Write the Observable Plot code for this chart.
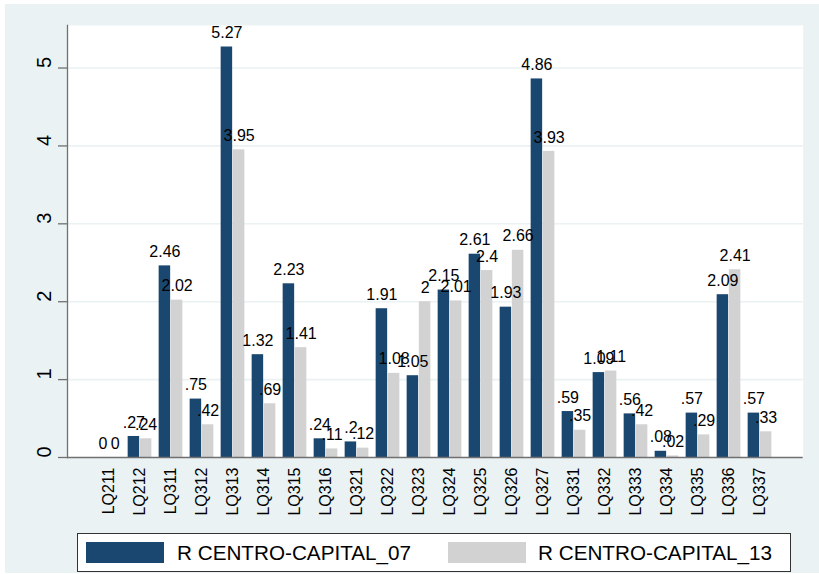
<!DOCTYPE html>
<html>
<head>
<meta charset="utf-8">
<script src="https://cdn.jsdelivr.net/npm/d3@7"></script>
<script src="https://cdn.jsdelivr.net/npm/@observablehq/plot@0.6"></script>
<style>
  html, body { margin: 0; padding: 0; background: #ffffff; }
  #wrap { position: relative; width: 819px; height: 574px; overflow: hidden; font-family: "Liberation Sans", Arial, sans-serif; }
  #bg { position: absolute; left: 5px; top: 4px; width: 814px; height: 569px; background: #eaf2f3; }
  #chart { position: absolute; left: 0; top: 0; }
  #legend { position: absolute; left: 77px; top: 533px; width: 712px; height: 37px; background: #ffffff; border: 1px solid #333333; }
  .sw { position: absolute; top: 8px; width: 78px; height: 21px; }
  .lt { position: absolute; top: 0; line-height: 37px; font-size: 20.7px; color: #000; white-space: nowrap; }
</style>
</head>
<body>
<div id="wrap">
  <div id="bg"></div>
  <div id="chart"></div>
  <div id="legend"></div>
</div>
<script>
const cats = ["LQ211","LQ212","LQ311","LQ312","LQ313","LQ314","LQ315","LQ316","LQ321","LQ322","LQ323","LQ324","LQ325","LQ326","LQ327","LQ331","LQ332","LQ333","LQ334","LQ335","LQ336","LQ337"];
const v07 = [0, 0.27, 2.46, 0.75, 5.27, 1.32, 2.23, 0.24, 0.2, 1.91, 1.05, 2.15, 2.61, 1.93, 4.86, 0.59, 1.09, 0.56, 0.08, 0.57, 2.09, 0.57];
const v13 = [0, 0.24, 2.02, 0.42, 3.95, 0.69, 1.41, 0.11, 0.12, 1.08, 2, 2.01, 2.4, 2.66, 3.93, 0.35, 1.11, 0.42, 0.02, 0.29, 2.41, 0.33];
const yTicks = [0, 1, 2, 3, 4, 5];
const seriesNames = ["R CENTRO-CAPITAL_07", "R CENTRO-CAPITAL_13"];
const seriesColors = ["#1a476f", "#d2d2d2"];

const rows07 = cats.map((c, i) => ({cat: c, v: v07[i]}));
const rows13 = cats.map((c, i) => ({cat: c, v: v13[i]}));
const fmt = v => v === 0 ? "0" : String(v).replace(/^0\./, ".");

const axisColor = "#707070";
const chart = Plot.plot({
  width: 819,
  height: 524,
  marginLeft: 67,
  marginRight: 16.3,
  marginTop: 25,
  marginBottom: 67,
  style: {background: "transparent", fontFamily: "'Liberation Sans', Arial, sans-serif", overflow: "visible", color: "#000"},
  x: {domain: cats, range: [85.15, 782.55], padding: 0},
  y: {domain: [0, 5.546]},
  marks: [
    Plot.frame({fill: "white", stroke: null}),
    Plot.ruleY(yTicks.filter(d => d > 0), {stroke: "#eaf2f3", strokeWidth: 1.6}),
    Plot.barY(rows07, {x: "cat", y: "v", fill: seriesColors[0], insetLeft: 3.65, insetRight: 15.85}),
    Plot.barY(rows13, {x: "cat", y: "v", fill: seriesColors[1], insetLeft: 15.85, insetRight: 3.65}),
    Plot.text(rows07, {x: "cat", y: "v", text: d => fmt(d.v), dx: -6.1, dy: -14, fontSize: 16, fill: "#000"}),
    Plot.text(rows13, {x: "cat", y: "v", text: d => fmt(d.v), dx: 6.1, dy: -14, fontSize: 16, fill: "#000"}),
    Plot.axisX({tickRotate: -90, tickSize: 0, tickPadding: 10, fontSize: 16, label: null}),
    Plot.axisY({ticks: yTicks, tickSize: 9, tickFormat: () => "", stroke: axisColor, strokeWidth: 1.3, label: null}),
    Plot.text(yTicks, {y: d => d, text: d => String(d), frameAnchor: "left", dx: -23.4, rotate: -90, fontSize: 20, fill: "#000"}),
    Plot.frame({anchor: "left", stroke: axisColor, strokeWidth: 1.3}),
    Plot.ruleY([0], {stroke: axisColor, strokeWidth: 1.3})
  ]
});
document.getElementById("chart").appendChild(chart);

const legend = document.getElementById("legend");
const swLeft = [8, 370];
const txtLeft = [99, 460];
seriesNames.forEach((name, i) => {
  const sw = document.createElement("div");
  sw.className = "sw";
  sw.style.left = swLeft[i] + "px";
  sw.style.background = seriesColors[i];
  legend.appendChild(sw);
  const t = document.createElement("div");
  t.className = "lt";
  t.style.left = txtLeft[i] + "px";
  t.textContent = name;
  legend.appendChild(t);
});
</script>
</body>
</html>
